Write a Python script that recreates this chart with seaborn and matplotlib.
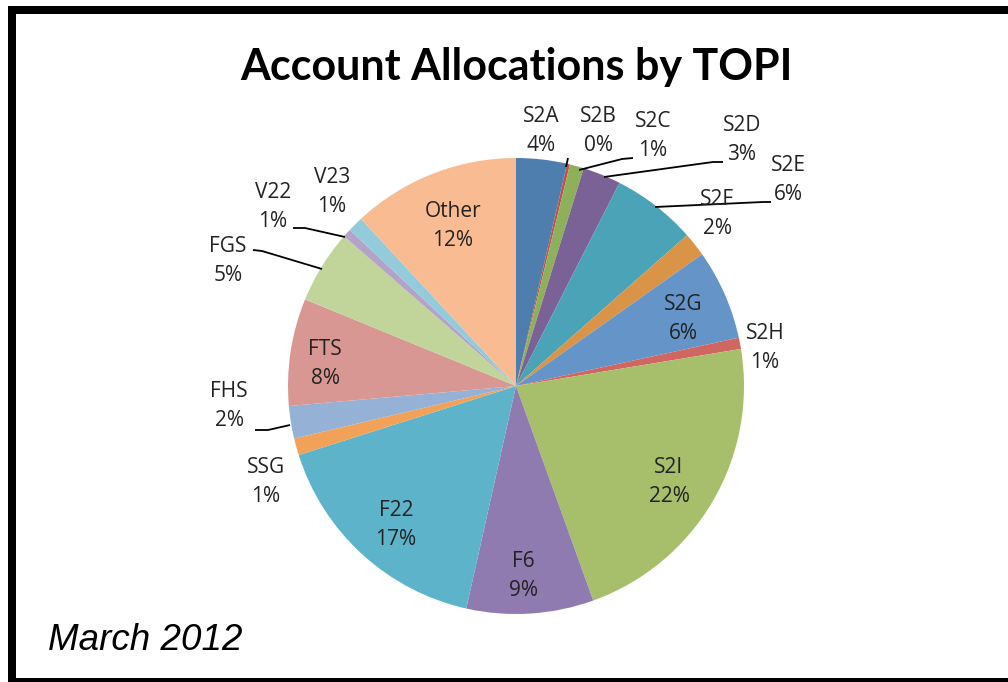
import matplotlib
matplotlib.use("Agg")
import matplotlib.pyplot as plt
from matplotlib.patches import Rectangle
import seaborn as sns

# values (share of accounts, %)
topi = ['S2A', 'S2B', 'S2C', 'S2D', 'S2E', 'S2F', 'S2G', 'S2H', 'S2I',
        'F6', 'F22', 'SSG', 'FHS', 'FTS', 'FGS', 'V22', 'V23', 'Other']
share = [3.6, 0.2, 1.0, 2.7, 6.0, 1.7, 6.4, 0.8, 22.1,
         9.0, 16.6, 1.2, 2.3, 7.6, 5.2, 0.6, 1.1, 11.9]

colors = ['#4e7eae', '#c0504d', '#8fb05a', '#7a6296', '#4aa3b6', '#d99447',
          '#6494c8', '#cf6662', '#a7bf6a', '#8f7bb0', '#5db4ca', '#f1a258',
          '#95b1d6', '#d99794', '#c1d49a', '#b3a3c8', '#93cbdb', '#f9bc92']

W, H = 1008, 682
CX, CY, R = 516, 386, 228

# label centres in image pixels
label_pos = {
    'S2A': (541, 131), 'S2B': (598, 131), 'S2C': (653, 136), 'S2D': (742, 140),
    'S2E': (788, 180), 'S2F': (717, 214), 'S2G': (683, 319), 'S2H': (765, 348),
    'S2I': (669, 482), 'F6': (523, 576), 'F22': (396, 525), 'SSG': (266, 482),
    'FHS': (229, 406), 'FTS': (325, 364), 'FGS': (228, 261), 'V22': (273, 207),
    'V23': (332, 192), 'Other': (453, 226),
}
leaders = {
    'S2B': [(568, 158), (566, 167)],
    'S2C': [(633, 158), (622, 159), (579, 170)],
    'S2D': [(723, 162), (713, 162), (604, 177)],
    'S2E': [(771, 202), (763, 202), (655, 207)],
    'V22': [(293, 228), (305, 228), (345, 237)],
    'FGS': [(253, 250), (262, 251), (322, 269)],
    'FHS': [(255, 430), (268, 430), (290, 425)],
}


def px(x, y):
    return (x - CX) / R, (CY - y) / R


sns.set_theme(style="white")
plt.rcParams['font.family'] = ['Open Sans', 'DejaVu Sans']

fig = plt.figure(figsize=(W / 100, H / 100), dpi=100)
ax = fig.add_axes([0, 0, 1, 1])
ax.pie(share, colors=colors, startangle=90, counterclock=False,
       radius=1, wedgeprops=dict(linewidth=0))
ax.set_xlim(-CX / R, (W - CX) / R)
ax.set_ylim((CY - H) / R, CY / R)
ax.set_aspect('auto')
ax.axis('off')

total = sum(share)
for name, v in zip(topi, share):
    x, y = px(*label_pos[name])
    ax.text(x, y, f"{name}\n{v / total * 100:.0f}%", ha='center', va='center',
            fontsize=15, color='#222222', linespacing=1.45)

for name, pts in leaders.items():
    xs, ys = zip(*[px(*p) for p in pts])
    ax.plot(xs, ys, color='black', lw=1.3, solid_capstyle='butt')

fig.text(CX / W, 1 - 80 / H, "Account Allocations by TOPI", ha='center',
         va='baseline', fontsize=31, fontweight='bold', color='black',
         family='Lato')
fig.text(48 / W, 1 - 650 / H, "March 2012", ha='left', va='baseline',
         fontsize=26.5, fontstyle='italic', family='Liberation Sans',
         color='black')

fig.add_artist(Rectangle((12 / W, 0), 1.1, 1 - 10 / H, transform=fig.transFigure,
                         fill=False, lw=5.76, ec='black', clip_on=False))

fig.savefig("out.png", dpi=100)
